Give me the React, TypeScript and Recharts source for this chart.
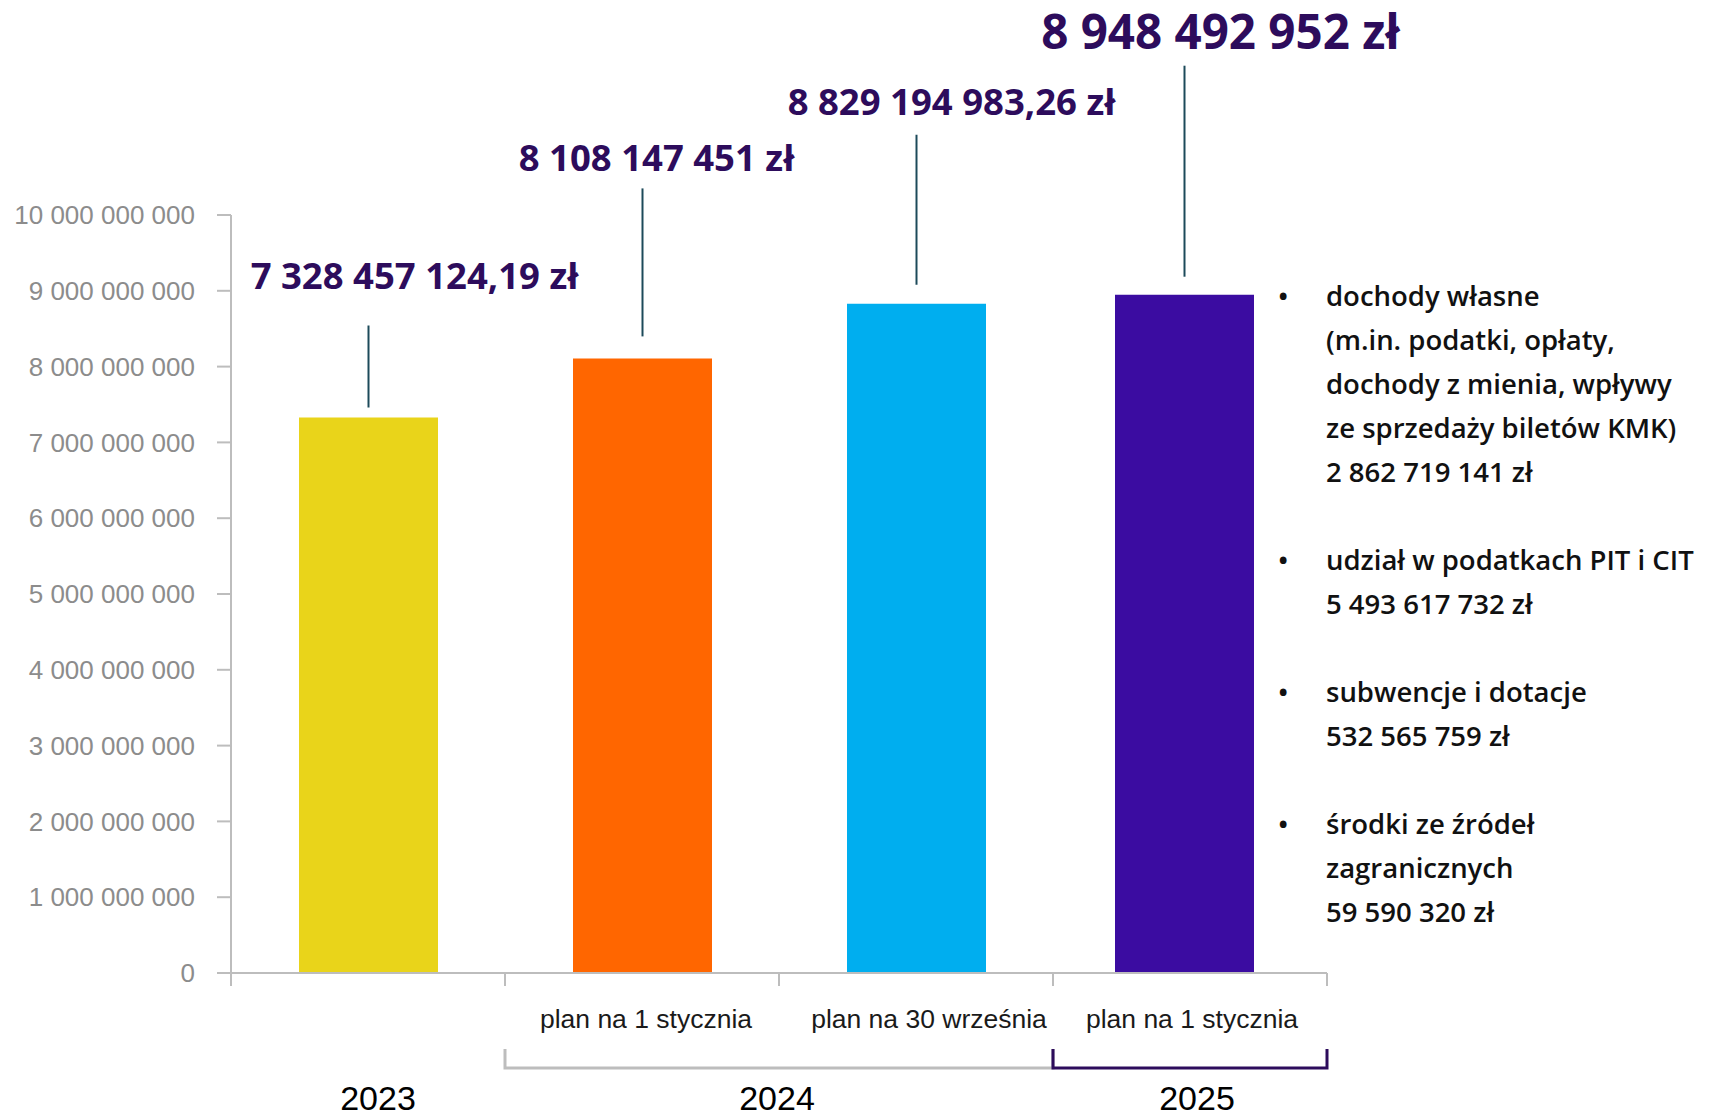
import { Bar, BarChart, Cell, LabelList, Rectangle, XAxis, YAxis } from 'recharts';

const CATEGORIES = ['', 'plan na 1 stycznia', 'plan na 30 września', 'plan na 1 stycznia'];
const YEARS = ['2023', '2024', '2024', '2025'];
const VALUES = [7328457124.19, 8108147451, 8829194983.26, 8948492952];
const Y_TICKS = [0, 1e9, 2e9, 3e9, 4e9, 5e9, 6e9, 7e9, 8e9, 9e9, 1e10];

const SOURCE_NAMES = [
  ['dochody własne', '(m.in. podatki, opłaty,', 'dochody z mienia, wpływy', 'ze sprzedaży biletów KMK)'],
  ['udział w podatkach PIT i CIT'],
  ['subwencje i dotacje'],
  ['środki ze źródeł', 'zagranicznych'],
];
const SOURCE_AMOUNTS = [2862719141, 5493617732, 532565759, 59590320];

const BAR_COLORS = ['#e9d41a', '#ff6600', '#00aeef', '#3b0ca1'];
const BRACKET_COLORS: Record<string, string | null> = { '2023': null, '2024': '#bdbdbd', '2025': '#2d0c5c' };
const LABEL_COLOR = '#2d0c5c';
const AXIS_COLOR = '#bdbdbd';

// hand-placed callouts and nudges, per bar
const BAR_DX = [0, 0, 0, -6];
const LEADER_GAP = [10, 22, 19, 18];
const LEADER_LEN = [82, 148, 150, 211];
const LABEL_GAP = [51, 31, 34, 35];
const LABEL_DX = [46, 14, 35, 36];
const LABEL_SIZE = [36.5, 36.5, 36.5, 47.5];
const CATEGORY_DX = [0, 4, 13, 2];
const YEAR_DX: Record<string, number> = { '2023': 10, '2024': -2, '2025': 7 };

const WIDTH = 1714;
const HEIGHT = 1116;
const MARGIN = { top: 215, right: 387, bottom: 0, left: 0 };
const Y_AXIS_W = 231;
const BAND = (WIDTH - MARGIN.right - Y_AXIS_W) / CATEGORIES.length;
const FONT = "'Liberation Sans', Arial, sans-serif";

const spaced = (n: number) => Math.floor(n).toString().replace(/\B(?=(\d{3})+(?!\d))/g, ' ');
const pln = (v: number) => {
  const cents = Math.round((v - Math.floor(v)) * 100);
  return cents ? `${spaced(v)},${String(cents).padStart(2, '0')} zł` : `${spaced(v)} zł`;
};

const data = CATEGORIES.map((c, i) => ({ id: i, category: c, year: YEARS[i], value: VALUES[i] }));

function indexOf(props: any) {
  return typeof props.index === 'number' ? props.index : VALUES.indexOf(Number(props.value));
}

function ShiftedBar(props: any) {
  const i = indexOf(props);
  return <Rectangle {...props} x={Number(props.x) + (BAR_DX[i] ?? 0)} />;
}

function ValueLabel(props: any) {
  const { x, y, width } = props;
  const i = indexOf(props);
  const cx = Number(x) + Number(width) / 2 + BAR_DX[i];
  const lineBottom = Number(y) - LEADER_GAP[i];
  const lineTop = lineBottom - LEADER_LEN[i];
  return (
    <g>
      <line x1={cx} x2={cx} y1={lineBottom} y2={lineTop} stroke="#1d4a5a" strokeWidth={2} />
      <text
        x={cx + LABEL_DX[i]}
        y={lineTop - LABEL_GAP[i]}
        textAnchor="middle"
        dominantBaseline="central"
        fill={LABEL_COLOR}
        fontFamily="'Open Sans', sans-serif"
        fontWeight={700}
        fontSize={LABEL_SIZE[i]}
      >
        {pln(VALUES[i])}
      </text>
    </g>
  );
}

function CategoryTick(props: any) {
  const { x, y, payload } = props;
  const i = Number(payload.value);
  const left = x - BAND / 2;
  const right = x + BAND / 2;
  const firstOfYear = i === 0 || YEARS[i - 1] !== YEARS[i];
  let span = 1;
  while (YEARS[i + span] === YEARS[i]) span++;
  const groupRight = left + span * BAND;
  const bracket = BRACKET_COLORS[YEARS[i]];
  return (
    <g>
      <line x1={left} x2={left} y1={y} y2={y + 13} stroke={AXIS_COLOR} strokeWidth={2} />
      {i === CATEGORIES.length - 1 ? <line x1={right} x2={right} y1={y} y2={y + 13} stroke={AXIS_COLOR} strokeWidth={2} /> : null}
      <text x={x + CATEGORY_DX[i]} y={y + 46} textAnchor="middle" dominantBaseline="central" fill="#1a1a1a" fontFamily={FONT} fontSize={26.5}>
        {CATEGORIES[i]}
      </text>
      {firstOfYear ? (
        <>
          {bracket ? (
            <path d={`M${left},${y + 76} V${y + 95} H${groupRight} V${y + 76}`} stroke={bracket} strokeWidth={3} fill="none" />
          ) : null}
          <text
            x={(left + groupRight) / 2 + (YEAR_DX[YEARS[i]] ?? 0)}
            y={y + 125}
            textAnchor="middle"
            dominantBaseline="central"
            fill="#000"
            fontFamily={FONT}
            fontSize={34}
          >
            {YEARS[i]}
          </text>
        </>
      ) : null}
    </g>
  );
}

export default function App() {
  return (
    <div style={{ position: 'fixed', top: 0, left: 0, width: WIDTH, height: HEIGHT, background: '#fff' }}>
      <BarChart width={WIDTH} height={HEIGHT} data={data} margin={MARGIN}>
        <YAxis
          width={Y_AXIS_W}
          domain={[0, 1e10]}
          ticks={Y_TICKS}
          interval={0}
          tickFormatter={(v: number) => spaced(v)}
          tick={{ fontSize: 26, fill: '#8c8c8c', fontFamily: FONT }}
          stroke={AXIS_COLOR}
          strokeWidth={2}
          tickSize={14}
          tickMargin={22}
        />
        <XAxis
          dataKey="id"
          height={HEIGHT - 973}
          interval={0}
          tick={<CategoryTick />}
          tickLine={false}
          tickSize={0}
          tickMargin={0}
          stroke={AXIS_COLOR}
          strokeWidth={2}
        />
        <Bar dataKey="value" barSize={139} isAnimationActive={false} shape={(p: any) => <ShiftedBar {...p} />}>
          {data.map((d, i) => (
            <Cell key={d.id} fill={BAR_COLORS[i]} />
          ))}
          <LabelList dataKey="value" content={(p: any) => <ValueLabel {...p} />} />
        </Bar>
      </BarChart>
      <div
        style={{
          position: 'absolute',
          left: 1278,
          top: 274,
          fontFamily: "'Open Sans', sans-serif",
          fontWeight: 600,
          fontSize: 27.5,
          lineHeight: '44px',
          color: '#111',
        }}
      >
        {SOURCE_NAMES.map((lines, k) => (
          <div key={k} style={{ display: 'flex', marginBottom: 44 }}>
            <div style={{ width: 48 }}>•</div>
            <div style={{ whiteSpace: 'nowrap' }}>
              {lines.map((l) => (
                <div key={l}>{l}</div>
              ))}
              <div>{spaced(SOURCE_AMOUNTS[k])} zł</div>
            </div>
          </div>
        ))}
      </div>
    </div>
  );
}
